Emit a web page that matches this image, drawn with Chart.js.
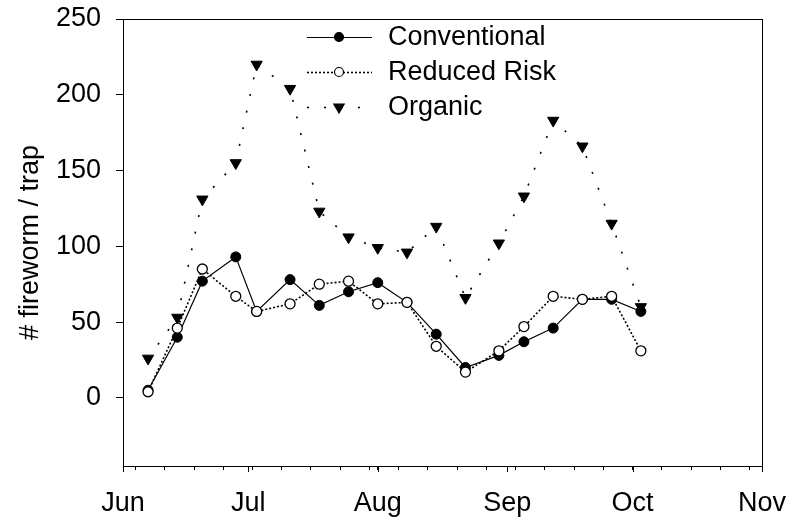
<!DOCTYPE html>
<html>
<head>
<meta charset="utf-8">
<script src="https://cdn.jsdelivr.net/npm/chart.js@4"></script>
<style>
  html, body { margin: 0; padding: 0; background: #fff; }
  #chart { display: block; }
</style>
</head>
<body>
<canvas id="chart" width="788" height="520"></canvas>
<script>
// ─── DATA ─────────────────────────────────────────────
// sampling dates as days after Jun 1
const sampleDays = [6, 13, 19, 27, 32, 40, 47, 54, 61, 68, 75, 82, 90, 96, 103, 110, 117, 124];

const conventional = [5, 40, 77, 93, 57, 78, 61, 70, 76, 63, 42, 20, 28, 37, 46, 65, 65, 57];
const reducedRisk  = [4, 46, 85, 67, 57, 62, 75, 77, 62, 63, 34, 17, 31, 47, 67, 65, 67, 31];
const organic      = [26, 53, 131, 155, 220, 204, 123, 106, 99, 96, 113, 66, 102, 133, 183, 166, 115, 60];

const monthLabels    = ['Jun', 'Jul', 'Aug', 'Sep', 'Oct', 'Nov'];
const monthStartDays = [0, 30, 61, 92, 122, 153];
const weekTickDays   = [3, 10, 17, 24, 31, 38, 45, 52, 59, 66, 73, 80, 87, 94, 101, 108, 115, 122, 129, 136, 143, 150];
const yTickValues    = [0, 50, 100, 150, 200, 250];

const FONT = '"Liberation Sans", Arial, sans-serif';

const toPoints = vals => vals.map((v, i) => ({ x: sampleDays[i], y: v }));

// ─── PLUGINS ──────────────────────────────────────────
const framePlugin = {
  id: 'frame',
  afterDraw(chart) {
    const { ctx, chartArea: a, scales } = chart;
    ctx.save();
    ctx.strokeStyle = '#000';
    ctx.lineWidth = 1;
    ctx.strokeRect(a.left + 0.5, a.top + 0.5, a.right - a.left, a.bottom - a.top);

    // longer ticks at month starts
    const xs = scales.x;
    monthStartDays.forEach(d => {
      const px = Math.round(xs.getPixelForValue(d)) + 0.5;
      ctx.beginPath();
      ctx.moveTo(px, a.bottom);
      ctx.lineTo(px, a.bottom + 6);
      ctx.stroke();
    });
    ctx.restore();
  }
};

function drawMarker(ctx, style, x, y, r) {
  ctx.beginPath();
  if (style === 'circle') {
    ctx.arc(x, y, r, 0, Math.PI * 2);
  } else {
    let rad = Math.PI;
    ctx.moveTo(x + Math.sin(rad) * r, y - Math.cos(rad) * r);
    rad += Math.PI * 2 / 3;
    ctx.lineTo(x + Math.sin(rad) * r, y - Math.cos(rad) * r);
    rad += Math.PI * 2 / 3;
    ctx.lineTo(x + Math.sin(rad) * r, y - Math.cos(rad) * r);
    ctx.closePath();
  }
  ctx.fill();
  ctx.stroke();
}

const legendPlugin = {
  id: 'sideLegend',
  afterDraw(chart) {
    const { ctx } = chart;
    const x0 = 307, x1 = 372, xm = 339, tx = 388;
    const rows = [37, 72, 107];
    ctx.save();
    chart.data.datasets.forEach((ds, r) => {
      const y = rows[r];
      ctx.strokeStyle = '#000';
      ctx.lineWidth = ds.borderWidth;
      ctx.setLineDash(ds.borderDash || []);
      ctx.beginPath();
      ctx.moveTo(x0, y + 0.5);
      ctx.lineTo(x1, y + 0.5);
      ctx.stroke();
      ctx.setLineDash([]);

      ctx.fillStyle = ds.pointBackgroundColor;
      ctx.lineWidth = 1.2;
      drawMarker(ctx, ds.pointStyle, xm, y, ds.pointStyle === 'circle' ? 4.5 : 6);

      ctx.fillStyle = '#000';
      ctx.font = '27px ' + FONT;
      ctx.textBaseline = 'middle';
      ctx.textAlign = 'left';
      ctx.fillText(ds.label, tx, y + 1);
    });
    ctx.restore();
  }
};

// ─── CHART ────────────────────────────────────────────
function initChart() {
  const canvas = document.getElementById('chart');
  const ctx = canvas.getContext('2d');

  new Chart(ctx, {
    type: 'line',
    data: {
      datasets: [
        {
          label: 'Conventional',
          data: toPoints(conventional),
          borderColor: '#000',
          borderWidth: 1.2,
          pointStyle: 'circle',
          pointRadius: 5,
          pointBackgroundColor: '#000',
          pointBorderColor: '#000',
          pointBorderWidth: 1,
          order: 1
        },
        {
          label: 'Reduced Risk',
          data: toPoints(reducedRisk),
          borderColor: '#000',
          borderWidth: 1.6,
          borderDash: [2, 2],
          pointStyle: 'circle',
          pointRadius: 5,
          pointBackgroundColor: '#fff',
          pointBorderColor: '#000',
          pointBorderWidth: 1.3,
          order: 0
        },
        {
          label: 'Organic',
          data: toPoints(organic),
          borderColor: '#000',
          borderWidth: 1.6,
          borderDash: [2, 15],
          pointStyle: 'triangle',
          pointRotation: 180,
          pointRadius: 6.5,
          pointBackgroundColor: '#000',
          pointBorderColor: '#000',
          pointBorderWidth: 1,
          order: 2
        }
      ]
    },
    options: {
      responsive: false,
      animation: false,
      layout: { padding: 0 },
      plugins: {
        legend: { display: false },
        tooltip: { enabled: false }
      },
      elements: { line: { tension: 0, fill: false } },
      scales: {
        x: {
          type: 'linear',
          min: 0,
          max: 153,
          afterFit: s => {
            s.height = 54;
            s.paddingLeft = 0;
            s.paddingRight = 26;
          },
          afterBuildTicks: s => {
            const all = Array.from(new Set([...monthStartDays, ...weekTickDays])).sort((a, b) => a - b);
            s.ticks = all.map(v => ({ value: v }));
          },
          grid: {
            drawOnChartArea: false,
            drawTicks: true,
            tickLength: 4,
            tickColor: '#000',
            tickWidth: 1
          },
          border: { display: true, color: '#000', width: 1 },
          ticks: {
            autoSkip: false,
            maxRotation: 0,
            padding: 17,
            color: '#000',
            font: { family: FONT, size: 27, lineHeight: 1.2 },
            callback: v => {
              const i = monthStartDays.indexOf(v);
              return i >= 0 ? monthLabels[i] : '';
            }
          }
        },
        y: {
          type: 'linear',
          min: -45,
          max: 250,
          afterFit: s => {
            s.width = 123;
            s.paddingTop = 19;
            s.paddingBottom = 0;
          },
          afterBuildTicks: s => { s.ticks = yTickValues.map(v => ({ value: v })); },
          grid: {
            drawOnChartArea: false,
            drawTicks: true,
            tickLength: 7,
            tickColor: '#000',
            tickWidth: 1
          },
          border: { display: true, color: '#000', width: 1 },
          ticks: {
            padding: 15,
            color: '#000',
            font: { family: FONT, size: 27 }
          },
          title: {
            display: true,
            text: '# fireworm / trap',
            color: '#000',
            padding: { top: 17, bottom: 0 },
            font: { family: FONT, size: 27, lineHeight: 1 }
          }
        }
      }
    },
    plugins: [framePlugin, legendPlugin]
  });
}

document.addEventListener('DOMContentLoaded', initChart);
</script>
</body>
</html>
